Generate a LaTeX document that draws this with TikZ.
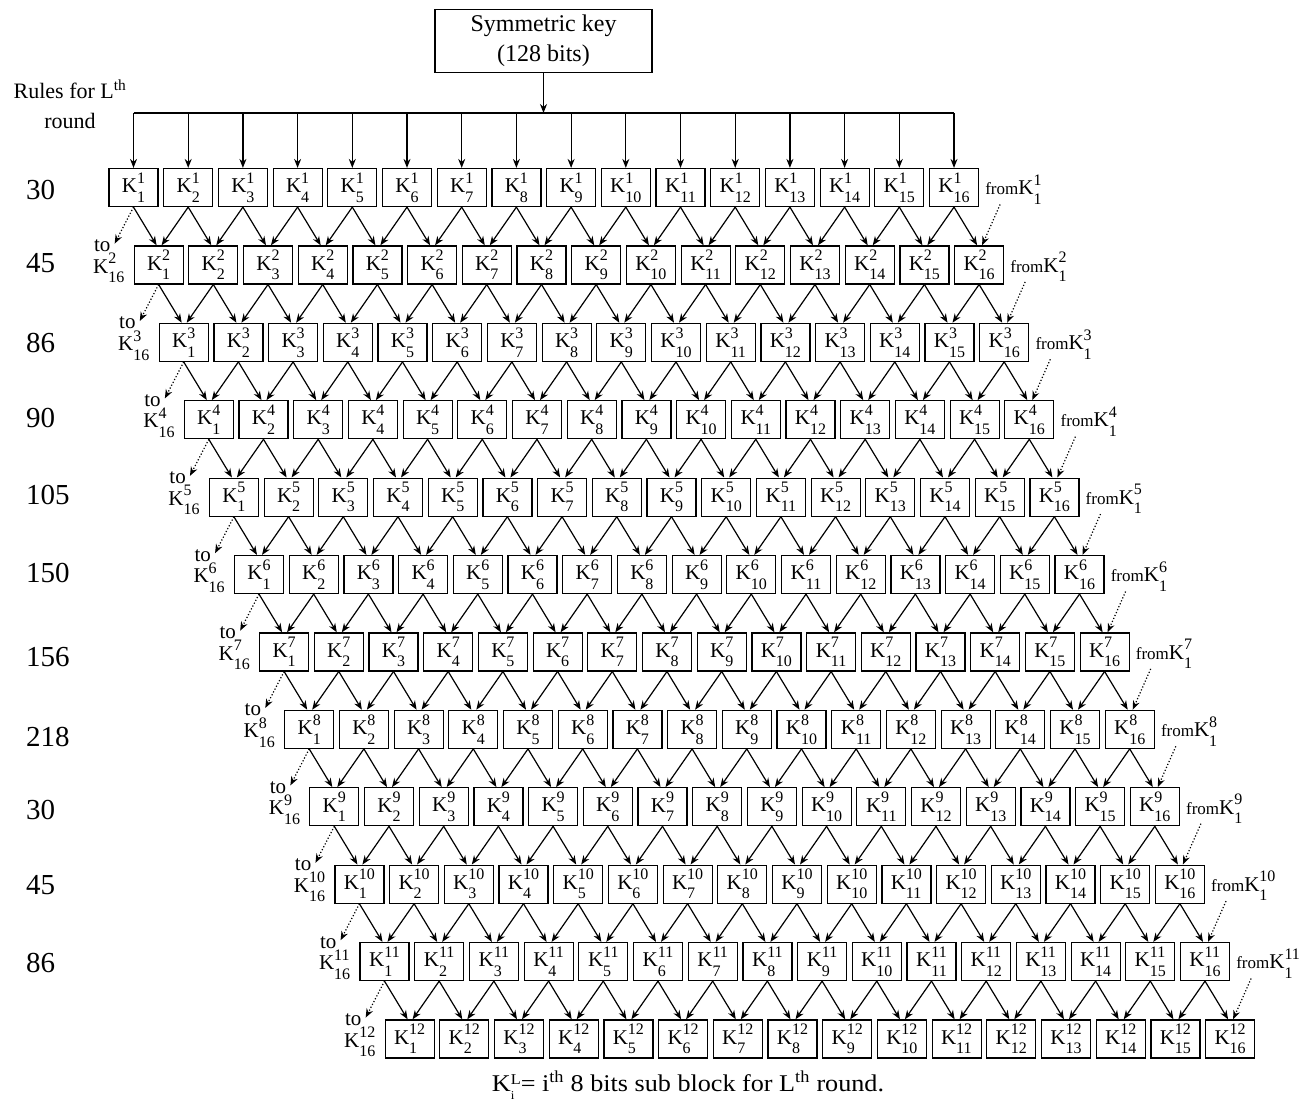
\documentclass[tikz,border=0pt]{standalone}
\usepackage{fontspec}
\setmainfont{Liberation Serif}
\usetikzlibrary{arrows.meta}
\newcommand{\Kb}[2]{K\ooalign{\raisebox{9.5pt}{\fontsize{16}{16}\selectfont #1}\cr\raisebox{-9.5pt}{\fontsize{16}{16}\selectfont #2}\cr}}
\begin{document}
\begin{tikzpicture}[x=1pt,y=-1pt,
  kbox/.style={draw, line width=1.2pt, minimum width=49pt, minimum height=38pt, inner sep=0pt, font=\fontsize{21}{21}\selectfont},
  arr/.style={-{Stealth[length=9pt,width=7pt]}, line width=1.2pt},
  darr/.style={arr, dotted},
  rulelab/.style={anchor=west, inner sep=0pt, font=\fontsize{29}{29}\selectfont},
  tolab/.style={inner sep=0pt, font=\fontsize{21}{21}\selectfont},
  fromlab/.style={anchor=west, inner sep=0pt, font=\fontsize{21}{21}\selectfont},
  keybox/.style={draw, line width=1.8pt, minimum width=217pt, minimum height=63pt, align=center, font=\fontsize{24}{30}\selectfont}
]
\useasboundingbox (0,0) rectangle (1304,1109);
% key
\node[keybox] (key) at (543.5,41) {Symmetric key\\(128 bits)};
\node[align=center, inner sep=0pt, font=\fontsize{22}{30}\selectfont] (rules) at (70,104) {Rules for L\textsuperscript{th}\\round};
% boxes
\foreach \L in {1,...,12} {
  \pgfmathsetmacro\yc{187.5+(\L-1)*77.4}
  \pgfmathsetmacro\xo{133.5+(\L-1)*25.1}
  \foreach \j in {1,...,16} {
    \node[kbox] (r-\L-\j) at ({\xo+(\j-1)*54.7},\yc) {\Kb{\L}{\j}};
  }
}
% rule numbers
\foreach \v/\yy [count=\i] in {30/190,45/263,86/343,90/418,105/495,150/573,156/657,218/737,30/810,45/885,86/963} {
  \node[rulelab] (num-\i) at (26,\yy) {\v};
}
% key bar
\coordinate (bar) at (0,113);
\draw[line width=1.2pt] (r-1-1.north |- bar) -- (r-1-16.north |- bar);
\draw[arr] (key.south) -- (key.south |- bar);
\foreach \j in {1,...,16} {
  \draw[arr] (r-1-\j.north |- bar) -- (r-1-\j.north);
}
% left "to" labels
\foreach \L in {2,...,12} {
  \node[tolab, anchor=east] (lk-\L) at ([xshift=-9pt,yshift=-3pt]r-\L-1.west) {\Kb{\L}{16}};
  \node[tolab, anchor=south west] (to-\L) at ([xshift=1pt,yshift=1pt]lk-\L.north west) {to};
}
% right "from" labels
\foreach \L in {1,...,11} {
  \node[fromlab] (fr-\L) at ([xshift=6pt,yshift=-2pt]r-\L-16.east) {{\fontsize{17}{17}\selectfont from}\Kb{\L}{1}};
}
% arrows between rows
\foreach \L [evaluate=\L as \N using int(\L+1)] in {1,...,11} {
  \foreach \j in {1,...,16} {
    \draw[arr] (r-\L-\j.south) -- ([xshift=-2pt]r-\N-\j.north);
  }
  \foreach \j [evaluate=\j as \jm using int(\j-1)] in {2,...,16} {
    \draw[arr] (r-\L-\j.south) -- ([xshift=3pt]r-\N-\jm.north);
  }
  \draw[darr] (r-\L-1.south) -- ([xshift=4pt,yshift=2pt]to-\N.east);
  \draw[darr] ([xshift=15pt]fr-\L.south west) -- ([xshift=3pt]r-\N-16.north);
}
% caption
\node[inner sep=0pt, font=\fontsize{24}{24}\selectfont] (cap) at (688,1085) {\scalebox{1.09}[1]{K\ooalign{\raisebox{7pt}{\fontsize{15}{15}\selectfont L}\cr\raisebox{-8pt}{\fontsize{12}{12}\selectfont i}\cr}= i\textsuperscript{th} 8 bits sub block for L\textsuperscript{th} round.}};
\end{tikzpicture}
\end{document}
